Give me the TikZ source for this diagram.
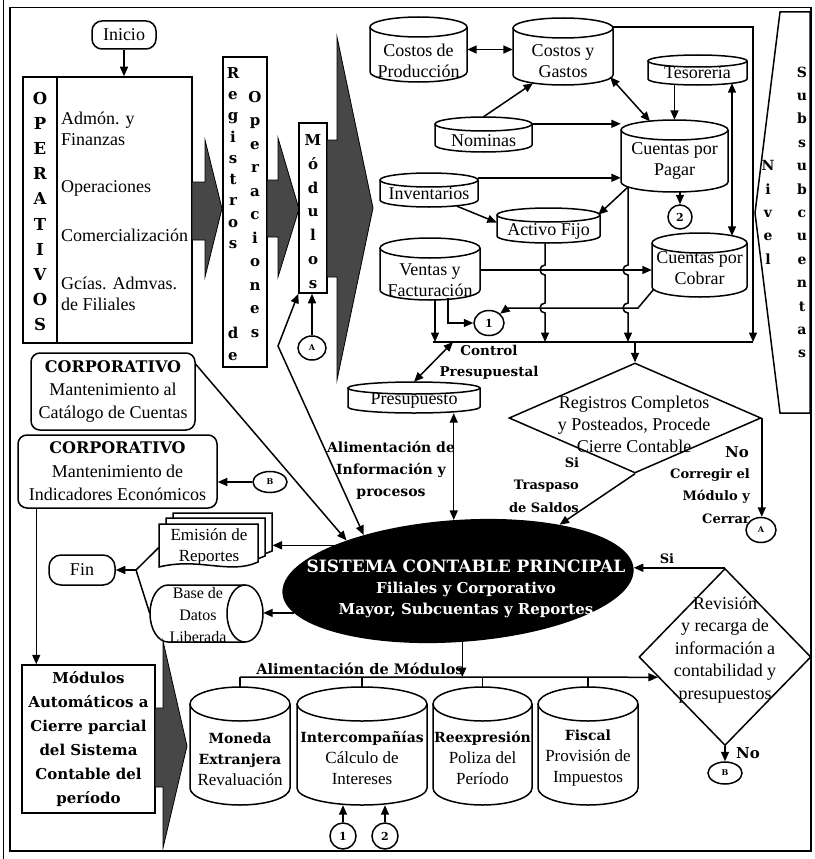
\documentclass[tikz,border=0pt]{standalone}
\usepackage{fontspec}
\setmainfont{Liberation Serif}
\newfontfamily\dvs{DejaVu Serif}
\usetikzlibrary{arrows.meta,shapes.geometric,calc}

\newcommand\bkf{\dvs\bfseries}
\newcommand\fsz[2]{\fontsize{#1}{#2}\selectfont}

\tikzset{
  ln/.style={line width=1.5pt},
  arr/.style={ln, -{Triangle[length=9.5pt,width=8pt]}},
  darr/.style={ln, {Triangle[length=9.5pt,width=8pt]}-{Triangle[length=9.5pt,width=8pt]}},
  txt/.style={align=center, inner sep=0, font=\fsz{18}{21}},
  btxt/.style={align=center, inner sep=0, font=\bkf\fsz{14}{22}},
  rbox/.style={draw, ln, rounded corners=9pt, inner sep=0, align=center},
  sbox/.style={draw, ln, inner sep=0},
  circ/.style={draw, ln, ellipse, inner sep=0, font=\bkf\fsz{8}{8}},
  bigarrow/.style={draw=black, line width=0.8pt, fill=black!72},
  vlet/.style={align=center, inner sep=0, font=\bkf\fsz{15}{23.5}},
}

% vertical cylinder: name, x1, y1, x2, y2, half height of the ellipse, text offset, text
\newcommand\cylnode[8]{%
  \draw[ln] (#2,#3+#6) -- (#2,#5-#6) arc[start angle=180, end angle=0, x radius={(#4-#2)/2}, y radius=#6] -- (#4,#3+#6);
  \draw[ln] ({(#2+#4)/2},#3+#6) ellipse[x radius={(#4-#2)/2}, y radius=#6];
  \node[inner sep=0, minimum width={(#4-#2)*1pt}, minimum height={(#5-#3)*1pt}] (#1) at ({(#2+#4)/2},{(#3+#5)/2}) {};
  \node[txt] (#1-t) at ({(#2+#4)/2},{(#3+#5)/2+#7}) {#8};
}
% one sheet of a stacked document symbol
\newcommand\docshape[4]{%
  \draw[ln, fill=white] (#1,#2) -- (#3,#2) -- (#3,#4-5) .. controls (#3-28,#4+8) and (#1+40,#4-10) .. (#1,#4) -- cycle;
}

\begin{document}
\begin{tikzpicture}[x=1pt,y=-1pt]
\useasboundingbox (0,0) rectangle (814,859);
\fill[white] (0,0) rectangle (814,859);

% page frame
\draw[line width=1.6pt] (10,7.5) rectangle (811,851);
\draw[line width=1.2pt] (3.5,0) -- (3.5,859);

% ---------- main system ----------
\node[ellipse, fill=black, inner sep=0, minimum width=352, minimum height=122, rotate=4] (sis) at (458,581) {};
\node[text=white, align=center, inner sep=0, font=\bkf\fsz{15}{21}] (sist) at (466,589)
  {{\fsz{17}{21}SISTEMA CONTABLE PRINCIPAL}\\Filiales y Corporativo\\Mayor, Subcuentas y Reportes};

% ---------- start and operating areas ----------
\node[rbox, minimum width=64, minimum height=28, rounded corners=10pt, font=\fsz{18}{18}] (ini) at (124,35) {Inicio};
\node[sbox, minimum width=169, minimum height=266] (op) at (107.5,210) {};
\draw[ln] (57,77) -- (57,343);
\draw[arr] (ini.south) -- (ini.south |- op.north);
\node[vlet, font=\bkf\fsz{16.5}{25.2}] (opl) at (40,211.5) {O\\P\\E\\R\\A\\T\\I\\V\\O\\S};
\node[txt, anchor=west, align=left] (op1) at (61,129) {Admón. y\\Finanzas};
\node[txt, anchor=west] (op2) at (61,188) {Operaciones};
\node[txt, anchor=west] (op3) at (61,235) {Comercialización};
\node[txt, anchor=west, align=left] (op4) at (61,294) {Gcías. Admvas.\\de Filiales};

\draw[bigarrow] (192,182) -- (205,182) -- (205,140) -- (222,208.5) -- (205,277) -- (205,240) -- (192,240) -- cycle;

\node[sbox, minimum width=44, minimum height=310] (reg) at (245,212) {};
\node[vlet, font=\bkf\fsz{15}{21.25}] (regl) at (233,158) {R\\e\\g\\i\\s\\t\\r\\o\\s};
\node[vlet, font=\bkf\fsz{15}{22}] (regd) at (233,344) {d\\e};
\node[vlet, font=\bkf\fsz{15}{23.5}] (rego) at (255,214.5) {O\\p\\e\\r\\a\\c\\i\\o\\n\\e\\s};

\draw[bigarrow] (267,180) -- (278,180) -- (278,138) -- (299,209) -- (278,277) -- (278,237) -- (267,237) -- cycle;

\node[sbox, minimum width=28, minimum height=170] (mod) at (313,208) {};
\node[vlet, font=\bkf\fsz{15}{23.8}] (modl) at (313,211.5) {M\\ó\\d\\u\\l\\o\\s};

\draw[bigarrow] (327,140) -- (337,140) -- (337,37) -- (373,208) -- (337,380) -- (337,277) -- (327,277) -- cycle;

\node[circ, minimum width=28, minimum height=24] (ca1) at (312,348) {A};
\draw[arr] (ca1.north) -- (ca1.north |- mod.south);
\coordinate (bendA) at (278,346);
\draw[darr] (mod.south west) -- (bendA) -- (sis.150);
\node[btxt] (alim) at (391,470) {Alimentación de\\Información y\\procesos};

% ---------- corporate maintenance ----------
\node[rbox, minimum width=164, minimum height=77, font=\fsz{18}{23.5}] (corp1) at (113,391.5)
  {{\bkf\fsz{16}{23.5}CORPORATIVO}\\Mantenimiento al\\Catálogo de Cuentas};
\draw[arr] ($(corp1.north east)+(0,12)$) -- (sis.156);
\node[rbox, minimum width=199, minimum height=73, font=\fsz{18}{23.5}] (corp2) at (117.5,471.5)
  {{\bkf\fsz{16}{23.5}CORPORATIVO}\\Mantenimiento de\\Indicadores Económicos};
\node[circ, minimum width=34, minimum height=21] (cb1) at (270,482) {B};
\draw[arr] (cb1.west) -- (cb1.west -| corp2.east);

% ---------- outputs ----------
\docshape{173}{513}{272}{556}
\docshape{166}{518}{265}{561}
\docshape{159}{524}{258}{567}
\node[inner sep=0, minimum width=99, minimum height=43] (emi) at (208.5,545.5) {};
\node[txt, font=\fsz{17}{21}] (emit) at (209,547) {Emisión de\\Reportes};
\coordinate (emiedge) at (272.5,545);
\draw[arr] (sis.160) -- (sis.160 -| emiedge);

\draw[ln, fill=white] (245,642) -- (168,642) arc[start angle=90, end angle=270, x radius=18, y radius=28.5] -- (245,585);
\draw[ln, fill=white] (245,613.5) ellipse[x radius=18, y radius=28.5];
\node[inner sep=0, minimum width=113, minimum height=57] (bdl) at (206.5,613.5) {};
\node[txt, font=\fsz{16}{22}] (bdlt) at (198,615) {Base de\\Datos\\Liberada};
\draw[arr] (sis.187) -- (sis.187 -| bdl.east);

\node[rbox, minimum width=66, minimum height=30, rounded corners=12pt, font=\fsz{18}{18}] (fin) at (82,570) {Fin};
\coordinate (jn) at (136,570);
\draw[ln] ($(emi.west)+(0,2)$) -- (jn) -- (bdl.west);
\draw[arr] (jn) -- (fin.east);

% ---------- automatic closing modules ----------
\node[sbox, minimum width=133, minimum height=148, align=center, font=\bkf\fsz{15}{24}] (mab) at (88.5,739)
  {Módulos\\Automáticos a\\Cierre parcial\\del Sistema\\Contable del\\período};
\coordinate (c2s) at ($(corp2.south west)+(19,0)$);
\draw[arr] (c2s) -- (c2s |- mab.north);
\draw[bigarrow] (155,708) -- (163,708) -- (163,641) -- (187,746) -- (163,848) -- (163,787) -- (155,787) -- cycle;

% ---------- budget ----------
\cylnode{pre}{348}{382}{480}{413}{6}{3.5}{Presupuesto}
\draw[darr] (sis.north |- pre.south) -- (sis.north);
\coordinate (barL) at (433,342);
\coordinate (barR) at (753,342);
\coordinate (barC) at (453,342);
\coordinate (barD) at (635,342);
\draw[ln] (barL) -- (barR);
\draw[darr] (pre.north) -- (barC);
\node[btxt, font=\bkf\fsz{13.5}{21}] (ctl) at (489,362) {Control\\Presupuestal};

% ---------- sub-ledgers ----------
\cylnode{cdp}{370}{17}{467}{82}{10}{11.5}{Costos de\\Producción}
\cylnode{cyg}{513}{18}{613}{85}{10}{9.5}{Costos y\\Gastos}
\cylnode{tes}{648}{55}{747}{85}{6}{2}{Tesorería}
\cylnode{nom}{435}{117}{532}{152}{7}{6.5}{Nominas}
\cylnode{cxp}{621}{120}{728}{192}{10}{5}{Cuentas por\\Pagar}
\cylnode{inv}{380}{173}{478}{207}{7}{4}{Inventarios}
\cylnode{af}{497}{208}{600}{243}{7}{5.5}{Activo Fijo}
\cylnode{vyf}{380}{238}{480}{300}{10}{11}{Ventas y\\Facturación}
\cylnode{cxc}{652}{233}{747}{297}{10}{3}{Cuentas por\\Cobrar}

\draw[darr] (cdp.east) -- (cdp.east -| cyg.west);
\draw[arr] (nom.north) -- ($(cyg.south)+(-30,-2)$);
\coordinate (nomR) at ($(nom.north east)+(0,7)$);
\draw[arr] (nomR) -- (nomR -| cxp.west);
\coordinate (invR) at ($(inv.north east)+(0,5)$);
\draw[arr] (invR) -- (invR -| cxp.west);
\draw[arr] ($(inv.south)+(28,-1)$) -- ($(af.west)+(0,-3)$);
\coordinate (cxpBL) at (628,187);
\draw[arr] (cxpBL) -- ($(af.north east)+(-2,7)$);
\draw[arr] (tes.south -| cxp.north) -- (cxp.north);
\draw[darr] ($(cyg.south east)+(-3,-8)$) -- ($(cxp.north)+(-24.5,1.5)$);
\draw[darr] ($(tes.south)+(34.5,-2)$) -- ($(cxc.north)+(32.5,3)$);
\node[circ, font=\bkf\fsz{11}{11}, minimum size=24] (c2a) at (680,217) {2};
\draw[arr] (c2a |- cxp.south) -- (c2a.north);
\coordinate (cygR) at ($(cyg.north east)+(0,9)$);
\draw[arr] (cygR) -| (barR);

% lines to the collecting bar, hopping over the crossing lines
\coordinate (afB) at ($(af.south)+(-3.5,0)$);
\draw[arr] (afB) -- (545,265) arc[start angle=270, end angle=90, radius=5] -- (545,303) arc[start angle=270, end angle=90, radius=5] -- (545,342);
\draw[arr] (cxpBL) -- (628,265) arc[start angle=270, end angle=90, radius=5] -- (628,303) arc[start angle=270, end angle=90, radius=5] -- (628,342);

\coordinate (vyfR) at ($(vyf.east)+(0,1)$);
\draw[arr] (vyfR) -- (vyfR -| cxc.west);
\coordinate (vyfB1) at ($(vyf.south)+(5,-1)$);
\draw[arr] (vyfB1) -- (vyfB1 |- barL);
\node[circ, font=\bkf\fsz{11}{11}, minimum width=30, minimum height=25] (c1a) at (489,323) {1};
\coordinate (vyfB2) at ($(vyf.south)+(18,-2)$);
\draw[arr] (vyfB2) |- (c1a.west);
\draw[arr] ($(cxc.south west)+(2,-8)$) -- (638,308) -- (508,308) -- (c1a.north east);

% ---------- level of sub-accounts ----------
\draw[ln] (780,12) -- (810,12) -- (810,413) -- (780,413) -- (755,213) -- cycle;
\node[vlet, font=\bkf\fsz{14}{23.4}] (niv) at (768,212.3) {N\\i\\v\\e\\l};
\node[vlet, font=\bkf\fsz{14}{23.4}] (subs) at (802,212.5) {S\\u\\b\\s\\u\\b\\c\\u\\e\\n\\t\\a\\s};

% ---------- closing decision ----------
\node[diamond, draw, ln, minimum width=252, minimum height=110, inner sep=0] (dia1) at (635,418) {};
\node[txt, font=\fsz{18}{22}] (dia1t) at (634,424) {Registros Completos\\y Posteados, Procede\\Cierre Contable};
\draw[arr] (barD) -- (dia1.north);
\draw[arr] (dia1.south) -- (sis.25);
\node[btxt, font=\bkf\fsz{13}{13}] (si1) at (572,463) {Si};
\node[btxt, align=right, anchor=east, font=\bkf\fsz{13}{23}] (tras) at (579,496.5) {Traspaso\\de Saldos};
\node[circ, minimum width=30, minimum height=25] (ca2) at (761,530) {A};
\draw[arr] (dia1.east) -- (dia1.east |- ca2.north);
\node[btxt, font=\bkf\fsz{15}{15}] (no1) at (737,452) {No};
\node[btxt, align=right, anchor=east, font=\bkf\fsz{13}{22.5}] (corr) at (750,496) {Corregir el\\Módulo y\\Cerrar};

% ---------- review decision ----------
\node[diamond, draw, ln, minimum width=172, minimum height=177, inner sep=0] (dia2) at (725,657) {};
\node[txt, font=\fsz{18}{22.5}] (dia2t) at (725,650) {Revisión\\y recarga de\\información a\\contabilidad y\\presupuestos};
\draw[arr] (dia2.north) -- (dia2.north -| sis.east);
\node[btxt, font=\bkf\fsz{13}{13}] (si2) at (667,559) {Si};
\node[circ, minimum width=34, minimum height=22] (cb2) at (725,773) {B};
\draw[arr] (dia2.south) -- (cb2.north);
\node[btxt, font=\bkf\fsz{15}{15}] (no2) at (748,753) {No};

% ---------- feeding of the modules ----------
\coordinate (feedL) at (240,677);
\coordinate (feedR) at ($(dia2.west)!0.227!(dia2.south)$);
\draw[arr] (feedL) -- (feedR);
\draw[arr] (sis.south) -- (sis.south |- feedL);
\node[btxt, anchor=base, font=\bkf\fsz{14.5}{14.5}] (alm) at (360,674) {Alimentación de Módulos};

\cylnode{mon}{190}{687}{290}{805}{17}{13.5}{{\bkf\fsz{14}{22}Moneda}\\{\bkf\fsz{14}{22}Extranjera}\\{\fsz{17}{22}Revaluación}}
\cylnode{ic}{297}{687}{427}{805}{17}{12}{{\bkf\fsz{14}{22}Intercompañías}\\{\fsz{17}{22}Cálculo de}\\{\fsz{17}{22}Intereses}}
\cylnode{rex}{433}{687}{532}{805}{17}{11.5}{{\bkf\fsz{14}{22}Reexpresión}\\{\fsz{17}{22}Poliza del}\\{\fsz{17}{22}Período}}
\cylnode{fis}{538}{687}{638}{805}{17}{11.5}{{\bkf\fsz{14}{22}Fiscal}\\{\fsz{17}{22}Provisión de}\\{\fsz{17}{22}Impuestos}}
\draw[ln] (feedL) -- (mon.north);
\draw[ln] (ic.north |- feedL) -- (ic.north);
\draw[ln] (rex.north |- feedL) -- (rex.north);
\draw[ln] (fis.north |- feedL) -- (fis.north);

\node[circ, font=\bkf\fsz{11}{11}, minimum size=26] (c1b) at (343,836) {1};
\node[circ, font=\bkf\fsz{11}{11}, minimum size=26] (c2b) at (385,836) {2};
\draw[arr] (c1b.north) -- (c1b.north |- ic.south);
\draw[arr] (c2b.north) -- (c2b.north |- ic.south);

\end{tikzpicture}
\end{document}
